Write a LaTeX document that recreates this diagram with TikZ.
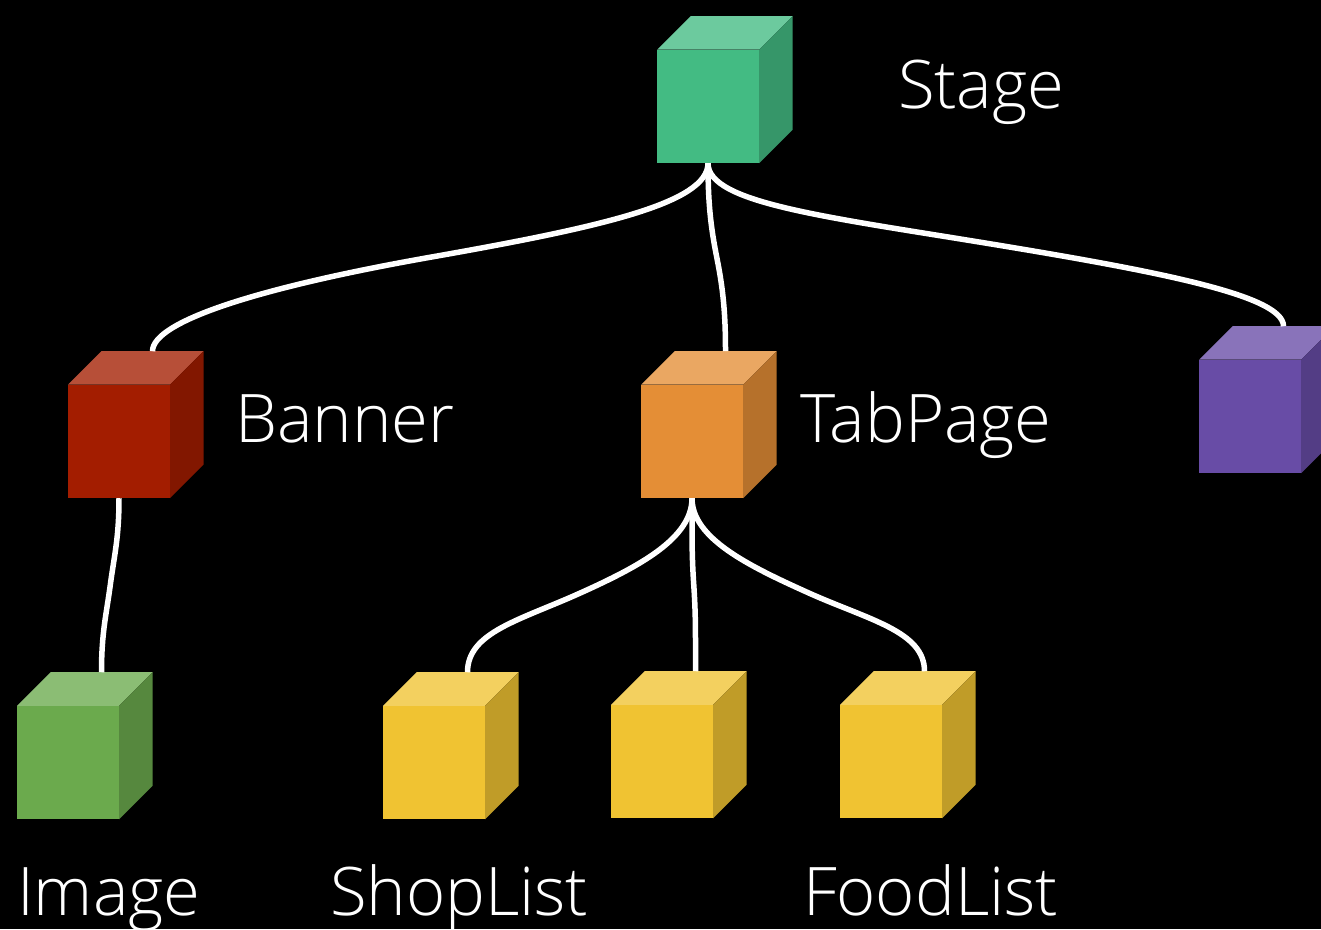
\documentclass[tikz,border=0pt]{standalone}
\usepackage{fontspec}
\setmainfont{Open Sans Light}
\usetikzlibrary{calc}

\definecolor{stagegreen}{RGB}{67,187,131}
\definecolor{bannerred}{RGB}{163,29,0}
\definecolor{taborange}{RGB}{228,142,54}
\definecolor{listyellow}{RGB}{240,195,50}
\definecolor{imagegreen}{RGB}{107,170,77}
\definecolor{extrapurple}{RGB}{104,76,166}

\tikzset{
    cubefront/.style={inner sep=0pt,outer sep=0pt,minimum width=102pt,minimum height=113.5pt,fill=#1},
    link/.style={draw=white,line width=5.5pt},
    label/.style={text=white,inner sep=0pt,outer sep=0pt,anchor=base west,font=\fontsize{67}{67}\selectfont}
}

% front face at its centre, lid and side from its corners
\newcommand{\cube}[4]{
    \node[cubefront=#2] (#1) at (#3pt, #4pt) {};
    \fill[#2!78!white] (#1.north west) -- ++(33.5pt,33.5pt) -- ++(102pt,0) -- (#1.north east) -- cycle;
    \fill[#2!80!black] (#1.north east) -- ++(33.5pt,33.5pt) -- ++(0,-113.5pt) -- (#1.south east) -- cycle;
    \coordinate (#1_top) at ($(#1.north)+(33.5pt,33.5pt)$);
}

\begin{document}
\begin{tikzpicture}[x=1pt,y=1pt]
    \fill[black] (0,0) rectangle (1321,929);
    \useasboundingbox (0,0) rectangle (1321,929);

    % cubes
    \cube{stage}{stagegreen}{708}{822.5}
    \cube{banner}{bannerred}{119}{487.5}
    \cube{tabpage}{taborange}{692}{487.5}
    \cube{extra}{extrapurple}{1250}{512.5}
    \cube{image}{imagegreen}{68}{166.5}
    \cube{shoplist}{listyellow}{434}{166.5}
    \cube{middle}{listyellow}{662}{167.5}
    \cube{foodlist}{listyellow}{891}{167.5}

    % labels
    \node[label] (stage_label) at (898,820) {Stage};
    \node[label] (banner_label) at (235,486) {Banner};
    \node[label] (tabpage_label) at (800,486) {TabPage};
    \node[label] (image_label) at (17,14) {Image};
    \node[label] (shoplist_label) at (330,14) {ShopList};
    \node[label] (foodlist_label) at (803,14) {FoodList};

    % links, each one two curves meeting halfway
    \draw[link] (stage.south) .. controls +(0,-40) and +(170,30) .. ($(stage.south)!0.5!(banner_top)$)
        .. controls +(-170,-30) and +(0,30) .. (banner_top);
    \draw[link] (stage.south) .. controls +(0,-40) and +(-6,30) .. ($(stage.south)!0.5!(tabpage_top)$)
        .. controls +(6,-30) and +(0,40) .. (tabpage_top);
    \draw[link] (stage.south) .. controls +(0,-40) and +(-170,28) .. ($(stage.south)!0.5!(extra_top)$)
        .. controls +(170,-28) and +(0,30) .. (extra_top);

    \draw[link] (banner.south) .. controls +(0,-40) and +(4,30) .. ($(banner.south)!0.5!(image_top)$)
        .. controls +(-4,-30) and +(0,40) .. (image_top);

    \draw[link] (tabpage.south) .. controls +(0,-40) and +(60,27) .. ($(tabpage.south)!0.5!(shoplist_top)+(0,-8)$)
        .. controls +(-60,-27) and +(0,40) .. (shoplist_top);
    \draw[link] (tabpage.south) .. controls +(0,-40) and +(-2,30) .. ($(tabpage.south)!0.5!(middle_top)$)
        .. controls +(2,-30) and +(0,40) .. (middle_top);
    \draw[link] (tabpage.south) .. controls +(0,-40) and +(-60,27) .. ($(tabpage.south)!0.5!(foodlist_top)+(0,-8)$)
        .. controls +(60,-27) and +(0,40) .. (foodlist_top);
\end{tikzpicture}
\end{document}
